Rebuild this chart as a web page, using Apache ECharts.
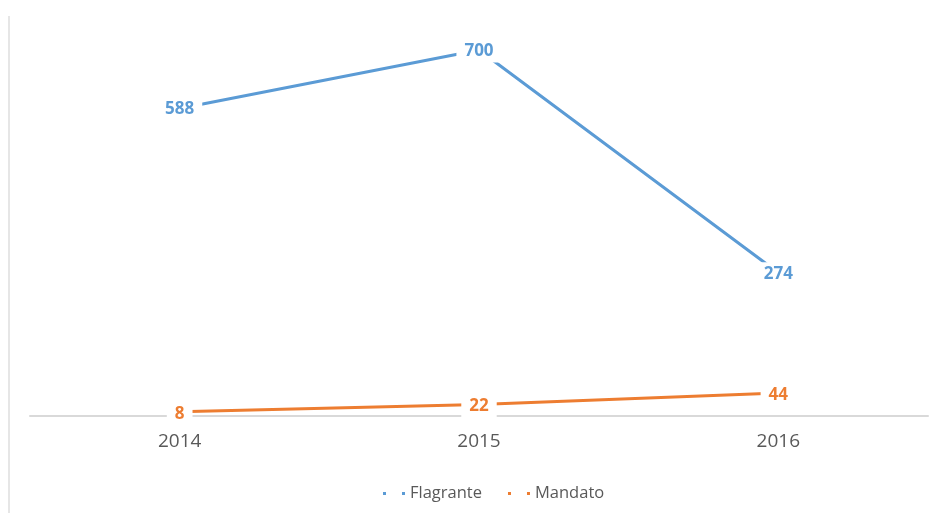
<!DOCTYPE html>
<html>
<head>
<meta charset="utf-8">
<script src="https://cdn.jsdelivr.net/npm/echarts@6/dist/echarts.min.js"></script>
<style>
  html, body { margin: 0; padding: 0; background: #fff; }
  #chart { width: 933px; height: 513px; }
</style>
</head>
<body>
<div id="chart"></div>
<script>
// dati
var years = ['2014', '2015', '2016'];
var flagrante = [588, 700, 274];
var mandato = [8, 22, 44];

var chart = echarts.init(document.getElementById('chart'));

function makeSeries(name, data, color, offsetY) {
  return {
    name: name,
    type: 'line',
    data: data,
    symbol: 'circle',
    symbolSize: 1,
    itemStyle: { color: color },
    lineStyle: { color: color, width: 3 },
    label: {
      show: true,
      position: 'inside',
      offset: [0, offsetY],
      color: color,
      fontFamily: 'Open Sans',
      fontWeight: 'bold',
      fontSize: 17,
      backgroundColor: '#fff',
      padding: [3, 8]
    },
    z: 3,
    animation: false
  };
}

var option = {
  backgroundColor: '#fff',
  grid: { left: 30, right: 5, top: 50, bottom: 97 },
  xAxis: {
    type: 'category',
    data: years,
    boundaryGap: true,
    axisTick: { show: false },
    axisLine: { lineStyle: { color: '#d9d9d9', width: 2 } },
    axisLabel: { color: '#595959', fontFamily: 'Open Sans', fontSize: 19, margin: 16 }
  },
  yAxis: {
    type: 'value',
    min: 0,
    max: 700,
    show: false
  },
  legend: {
    data: ['Flagrante', 'Mandato'],
    top: 480,
    left: 378,
    itemWidth: 22,
    itemHeight: 3,
    itemGap: 26,
    icon: 'path://M0,0h3v3h-3zM19,0h3v3h-3z',
    textStyle: { color: '#595959', fontFamily: 'Open Sans', fontSize: 16.5 }
  },
  graphic: [{
    type: 'rect',
    shape: { x: 8, y: 16, width: 2, height: 497 },
    style: { fill: '#e6e6e6' },
    silent: true
  }],
  series: [
    makeSeries('Flagrante', flagrante, '#5B9BD5', 1),
    makeSeries('Mandato', mandato, '#ED7D31', 2)
  ]
};

chart.setOption(option);
</script>
</body>
</html>
